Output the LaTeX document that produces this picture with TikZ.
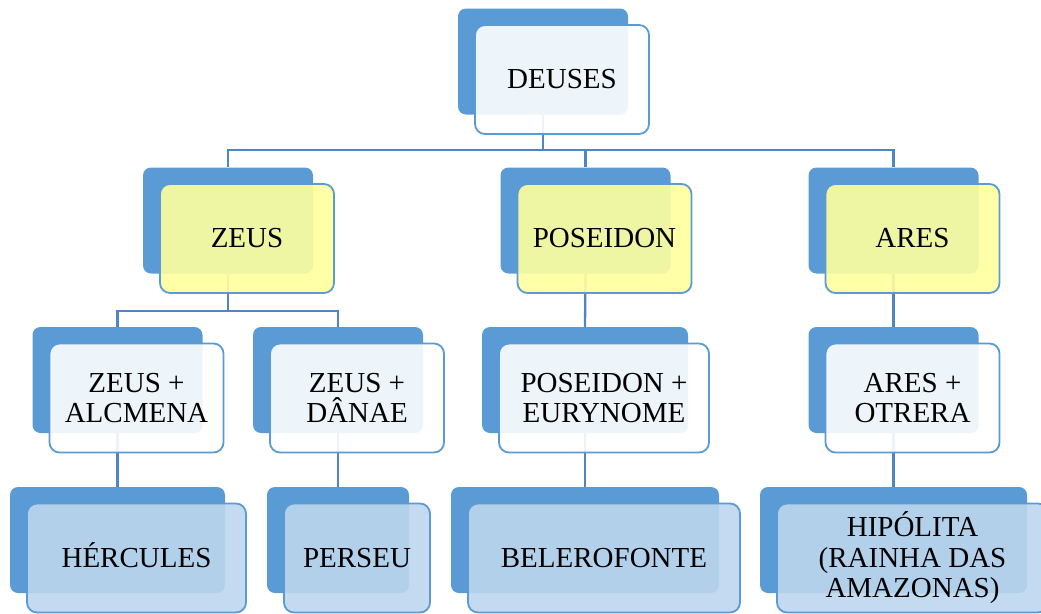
\documentclass[tikz,border=0pt]{standalone}
\usepackage{fontspec}
\setmainfont{Liberation Serif}
\usetikzlibrary{positioning}
\definecolor{backblue}{RGB}{91,155,213}
\definecolor{linkblue}{RGB}{78,134,197}
\definecolor{paleyellow}{RGB}{255,255,158}
\definecolor{paleblue}{RGB}{189,214,238}

\begin{document}
\begin{tikzpicture}[
    x=1pt, y=-1pt,
    back/.style={fill=backblue, rounded corners=8pt, minimum height=106pt, minimum width=170pt, inner sep=0pt},
    front/.style={draw=backblue, line width=1.8pt, rounded corners=10pt, fill opacity=0.9, text opacity=1,
        minimum height=109pt, minimum width=174pt, inner sep=0pt, align=center, font=\fontsize{29}{30.5}\selectfont},
    plain/.style={front, fill=white},
    god/.style={front, fill=paleyellow},
    hero/.style={front, fill=paleblue},
    link/.style={draw=linkblue, line width=2.3pt}
]
    \useasboundingbox (0,0) rectangle (1041,613);

    % Caixas de fundo (azul), por nivel
    \node [back] (deusesB) at (543,61.5) {};
    \node [back] (zeusB) at (228,220.5) {};
    \node [back] (poseidonB) at (585.5,220.5) {};
    \node [back] (aresB) at (893.5,220.5) {};
    \node [back] (alcmenaB) at (117.5,380) {};
    \node [back] (danaeB) at (338,380) {};
    \node [back, minimum width=206pt] (eurynomeB) at (585,380) {};
    \node [back] (otreraB) at (893.5,380) {};
    \node [back, minimum width=215pt] (herculesB) at (117.5,540) {};
    \node [back, minimum width=142pt] (perseuB) at (338,540) {};
    \node [back, minimum width=268pt] (belerofonteB) at (585,540) {};
    \node [back, minimum width=267pt] (hipolitaB) at (893.5,540) {};

    % Ligacoes entre os niveis
    \draw [link] (deusesB.south) -- ++(0,35) -| (zeusB.north);
    \draw [link] (deusesB.south) -- ++(0,35) -| (poseidonB.north);
    \draw [link] (deusesB.south) -- ++(0,35) -| (aresB.north);
    \draw [link] (zeusB.south) -- ++(0,37) -| (alcmenaB.north);
    \draw [link] (zeusB.south) -- ++(0,37) -| (danaeB.north);
    \draw [link] (poseidonB.south) -- (eurynomeB.north);
    \draw [link] (aresB.south) -- (otreraB.north);
    \draw [link] (alcmenaB.south) -- (herculesB.north);
    \draw [link] (danaeB.south) -- (perseuB.north);
    \draw [link] (eurynomeB.south) -- (belerofonteB.north);
    \draw [link] (otreraB.south) -- (hipolitaB.north);

    % Caixas da frente com o texto
    \node [plain] (deuses) at ([shift={(19,18)}]deusesB.center) {DEUSES};
    \node [god] (zeus) at ([shift={(19,18)}]zeusB.center) {ZEUS};
    \node [god] (poseidon) at ([shift={(19,18)}]poseidonB.center) {POSEIDON};
    \node [god] (ares) at ([shift={(19,18)}]aresB.center) {ARES};
    \node [plain] (alcmena) at ([shift={(19,18)}]alcmenaB.center) {ZEUS +\\ALCMENA};
    \node [plain] (danae) at ([shift={(19,18)}]danaeB.center) {ZEUS +\\DÂNAE};
    \node [plain, minimum width=210pt] (eurynome) at ([shift={(19,18)}]eurynomeB.center) {POSEIDON +\\EURYNOME};
    \node [plain] (otrera) at ([shift={(19,18)}]otreraB.center) {ARES +\\OTRERA};
    \node [hero, minimum width=219pt] (hercules) at ([shift={(19,18)}]herculesB.center) {H\smash{É}RCULES};
    \node [hero, minimum width=146pt] (perseu) at ([shift={(19,18)}]perseuB.center) {PERSEU};
    \node [hero, minimum width=272pt] (belerofonte) at ([shift={(19,18)}]belerofonteB.center) {BELEROFONTE};
    \node [hero, minimum width=271pt] (hipolita) at ([shift={(19,18)}]hipolitaB.center) {HIPÓLITA\\(RAINHA DAS\\AMAZONAS)};

\end{tikzpicture}
\end{document}
